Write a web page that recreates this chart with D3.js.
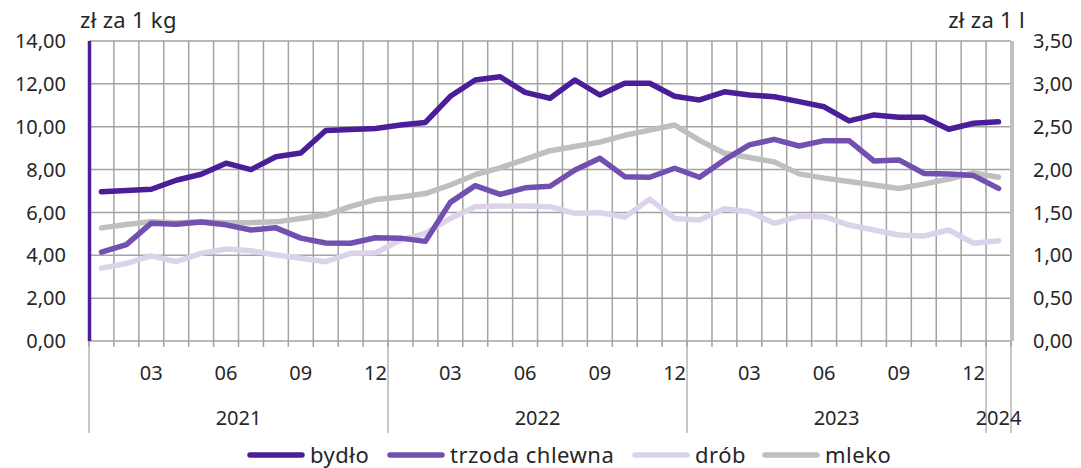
<!DOCTYPE html>
<html><head><meta charset="utf-8">
<script src="https://cdn.jsdelivr.net/npm/d3@7/dist/d3.min.js"></script>
<style>body{margin:0;background:#fff}svg{display:block}text{font-family:"Noto Sans",sans-serif;fill:#262626}</style>
</head><body><svg id="c" width="1081" height="468"></svg>
<script>
// months Jan 2021 .. Jan 2024
const months = d3.range(37).map(i => ({y: 2021 + Math.floor(i/12), m: (i%12)+1}));
const years = [2021, 2022, 2023, 2024];
const leftTicks = [0,2,4,6,8,10,12,14];
const rightTicks = [0,0.5,1,1.5,2,2.5,3,3.5];
const bydlo = [6.97,7.02,7.08,7.5,7.78,8.3,8.0,8.6,8.77,9.82,9.87,9.92,10.08,10.2,11.42,12.18,12.33,11.6,11.33,12.18,11.48,12.03,12.03,11.42,11.25,11.63,11.48,11.4,11.17,10.93,10.27,10.55,10.44,10.44,9.88,10.16,10.23];
const trzoda = [4.15,4.5,5.5,5.45,5.55,5.42,5.18,5.28,4.8,4.57,4.56,4.82,4.8,4.65,6.47,7.25,6.84,7.15,7.22,7.98,8.53,7.67,7.64,8.06,7.64,8.45,9.15,9.41,9.1,9.35,9.35,8.4,8.45,7.82,7.79,7.72,7.12];
const drob = [3.4,3.62,3.97,3.7,4.09,4.29,4.21,4.01,3.86,3.7,4.09,4.12,4.71,5.02,5.72,6.27,6.3,6.3,6.27,5.96,5.99,5.78,6.62,5.72,5.65,6.17,6.03,5.49,5.83,5.8,5.41,5.18,4.95,4.9,5.18,4.56,4.68];
const mleko = [1.32,1.36,1.39,1.38,1.39,1.38,1.38,1.39,1.43,1.47,1.57,1.65,1.68,1.72,1.82,1.94,2.02,2.12,2.22,2.27,2.32,2.40,2.46,2.52,2.34,2.19,2.14,2.09,1.95,1.90,1.86,1.82,1.78,1.83,1.89,1.96,1.91];
const seriesNames = ["bydło","trzoda chlewna","drób","mleko"];
const colors = ["#4a1e98","#7150b0","#dcd3ea","#bfbfbf"];

const svg = d3.select("#c");
const L = 89, R = 1011, T = 41, B = 341;
const x = d3.scaleBand().domain(d3.range(37)).range([L, R]).paddingInner(0).paddingOuter(0);
const yL = d3.scaleLinear().domain([0,14]).range([B, T]);
const yR = d3.scaleLinear().domain([0,3.5]).range([B, T]);
const grid = "#a3a3a3";

// horizontal gridlines
svg.append("g").selectAll("line").data(leftTicks).join("line")
  .attr("x1", L).attr("x2", R).attr("y1", d=>yL(d)).attr("y2", d=>yL(d))
  .attr("stroke", grid).attr("stroke-width", 1.5);
// vertical gridlines at category boundaries
const bounds = d3.range(38).map(i => L + i*x.bandwidth());
svg.append("g").selectAll("line").data(bounds).join("line")
  .attr("x1", d=>d).attr("x2", d=>d).attr("y1", T).attr("y2", B+6)
  .attr("stroke", grid).attr("stroke-width", 1.5);
// year separators
const yearBounds = [0,12,24,36,37].map(i => L + i*x.bandwidth());
svg.append("g").selectAll("line").data(yearBounds).join("line")
  .attr("x1", d=>d).attr("x2", d=>d).attr("y1", B).attr("y2", 433)
  .attr("stroke", grid).attr("stroke-width", 1.2);

// axes bars
svg.append("line").attr("x1", L+0.5).attr("x2", L+0.5).attr("y1", T).attr("y2", B)
  .attr("stroke", colors[0]).attr("stroke-width", 3.5);
svg.append("line").attr("x1", R+1).attr("x2", R+1).attr("y1", T).attr("y2", B)
  .attr("stroke", colors[3]).attr("stroke-width", 4);

const fmt = v => d3.format(".2f")(v).replace(".", ",");
svg.append("g").selectAll("text").data(leftTicks).join("text")
  .attr("x", 66).attr("y", d=>yL(d)).attr("dy", "0.36em").attr("text-anchor","end")
  .style("font-size","20px").text(fmt);
svg.append("g").selectAll("text").data(rightTicks).join("text")
  .attr("x", 1033).attr("y", d=>yR(d)).attr("dy", "0.36em").attr("text-anchor","start")
  .style("font-size","20px").text(fmt);
svg.append("text").attr("x", 80).attr("y", 28).style("font-size","22px").style("letter-spacing","0.3px").text("zł za 1 kg");
svg.append("text").attr("x", 1025).attr("y", 28).attr("text-anchor","end").style("font-size","22px").style("letter-spacing","0.3px").text("zł za 1 l");

// month labels
svg.append("g").selectAll("text").data(months.filter(d => d.m % 3 === 0)).join("text")
  .attr("x", d => x(months.indexOf(d)) + x.bandwidth()/2).attr("y", 380)
  .attr("text-anchor","middle").style("font-size","20px")
  .text(d => String(d.m).padStart(2,"0"));
svg.append("g").selectAll("text").data(years).join("text")
  .attr("x", (d,i) => {
    const a = L + i*12*x.bandwidth(); const b = Math.min(R, a + 12*x.bandwidth());
    return (a+b)/2;})
  .attr("y", 425).attr("text-anchor","middle").style("font-size","20px").text(d=>d);

// lines
const data = [
  {vals: bydlo, y: yL}, {vals: trzoda, y: yL}, {vals: drob, y: yL}, {vals: mleko, y: yR}
];
[3,2,1,0].forEach(k => {
  const s = data[k];
  const line = d3.line().x((d,i)=>x(i)+x.bandwidth()/2).y(d=>s.y(d));
  svg.append("path").attr("d", line(s.vals)).attr("fill","none")
    .attr("stroke", colors[k]).attr("stroke-width", 5.5)
    .attr("stroke-linejoin","round").attr("stroke-linecap","round");
});

// legend
const legX = [250, 390, 635, 765];
const lg = svg.append("g");
seriesNames.forEach((n,i) => {
  lg.append("line").attr("x1", legX[i]).attr("x2", legX[i]+52).attr("y1", 455).attr("y2", 455)
    .attr("stroke", colors[i]).attr("stroke-width", 5.5).attr("stroke-linecap","round");
  lg.append("text").attr("x", legX[i]+60).attr("y", 455).attr("dy","0.36em")
    .style("font-size","22px").style("letter-spacing","0.5px").text(n);
});
</script></body></html>
